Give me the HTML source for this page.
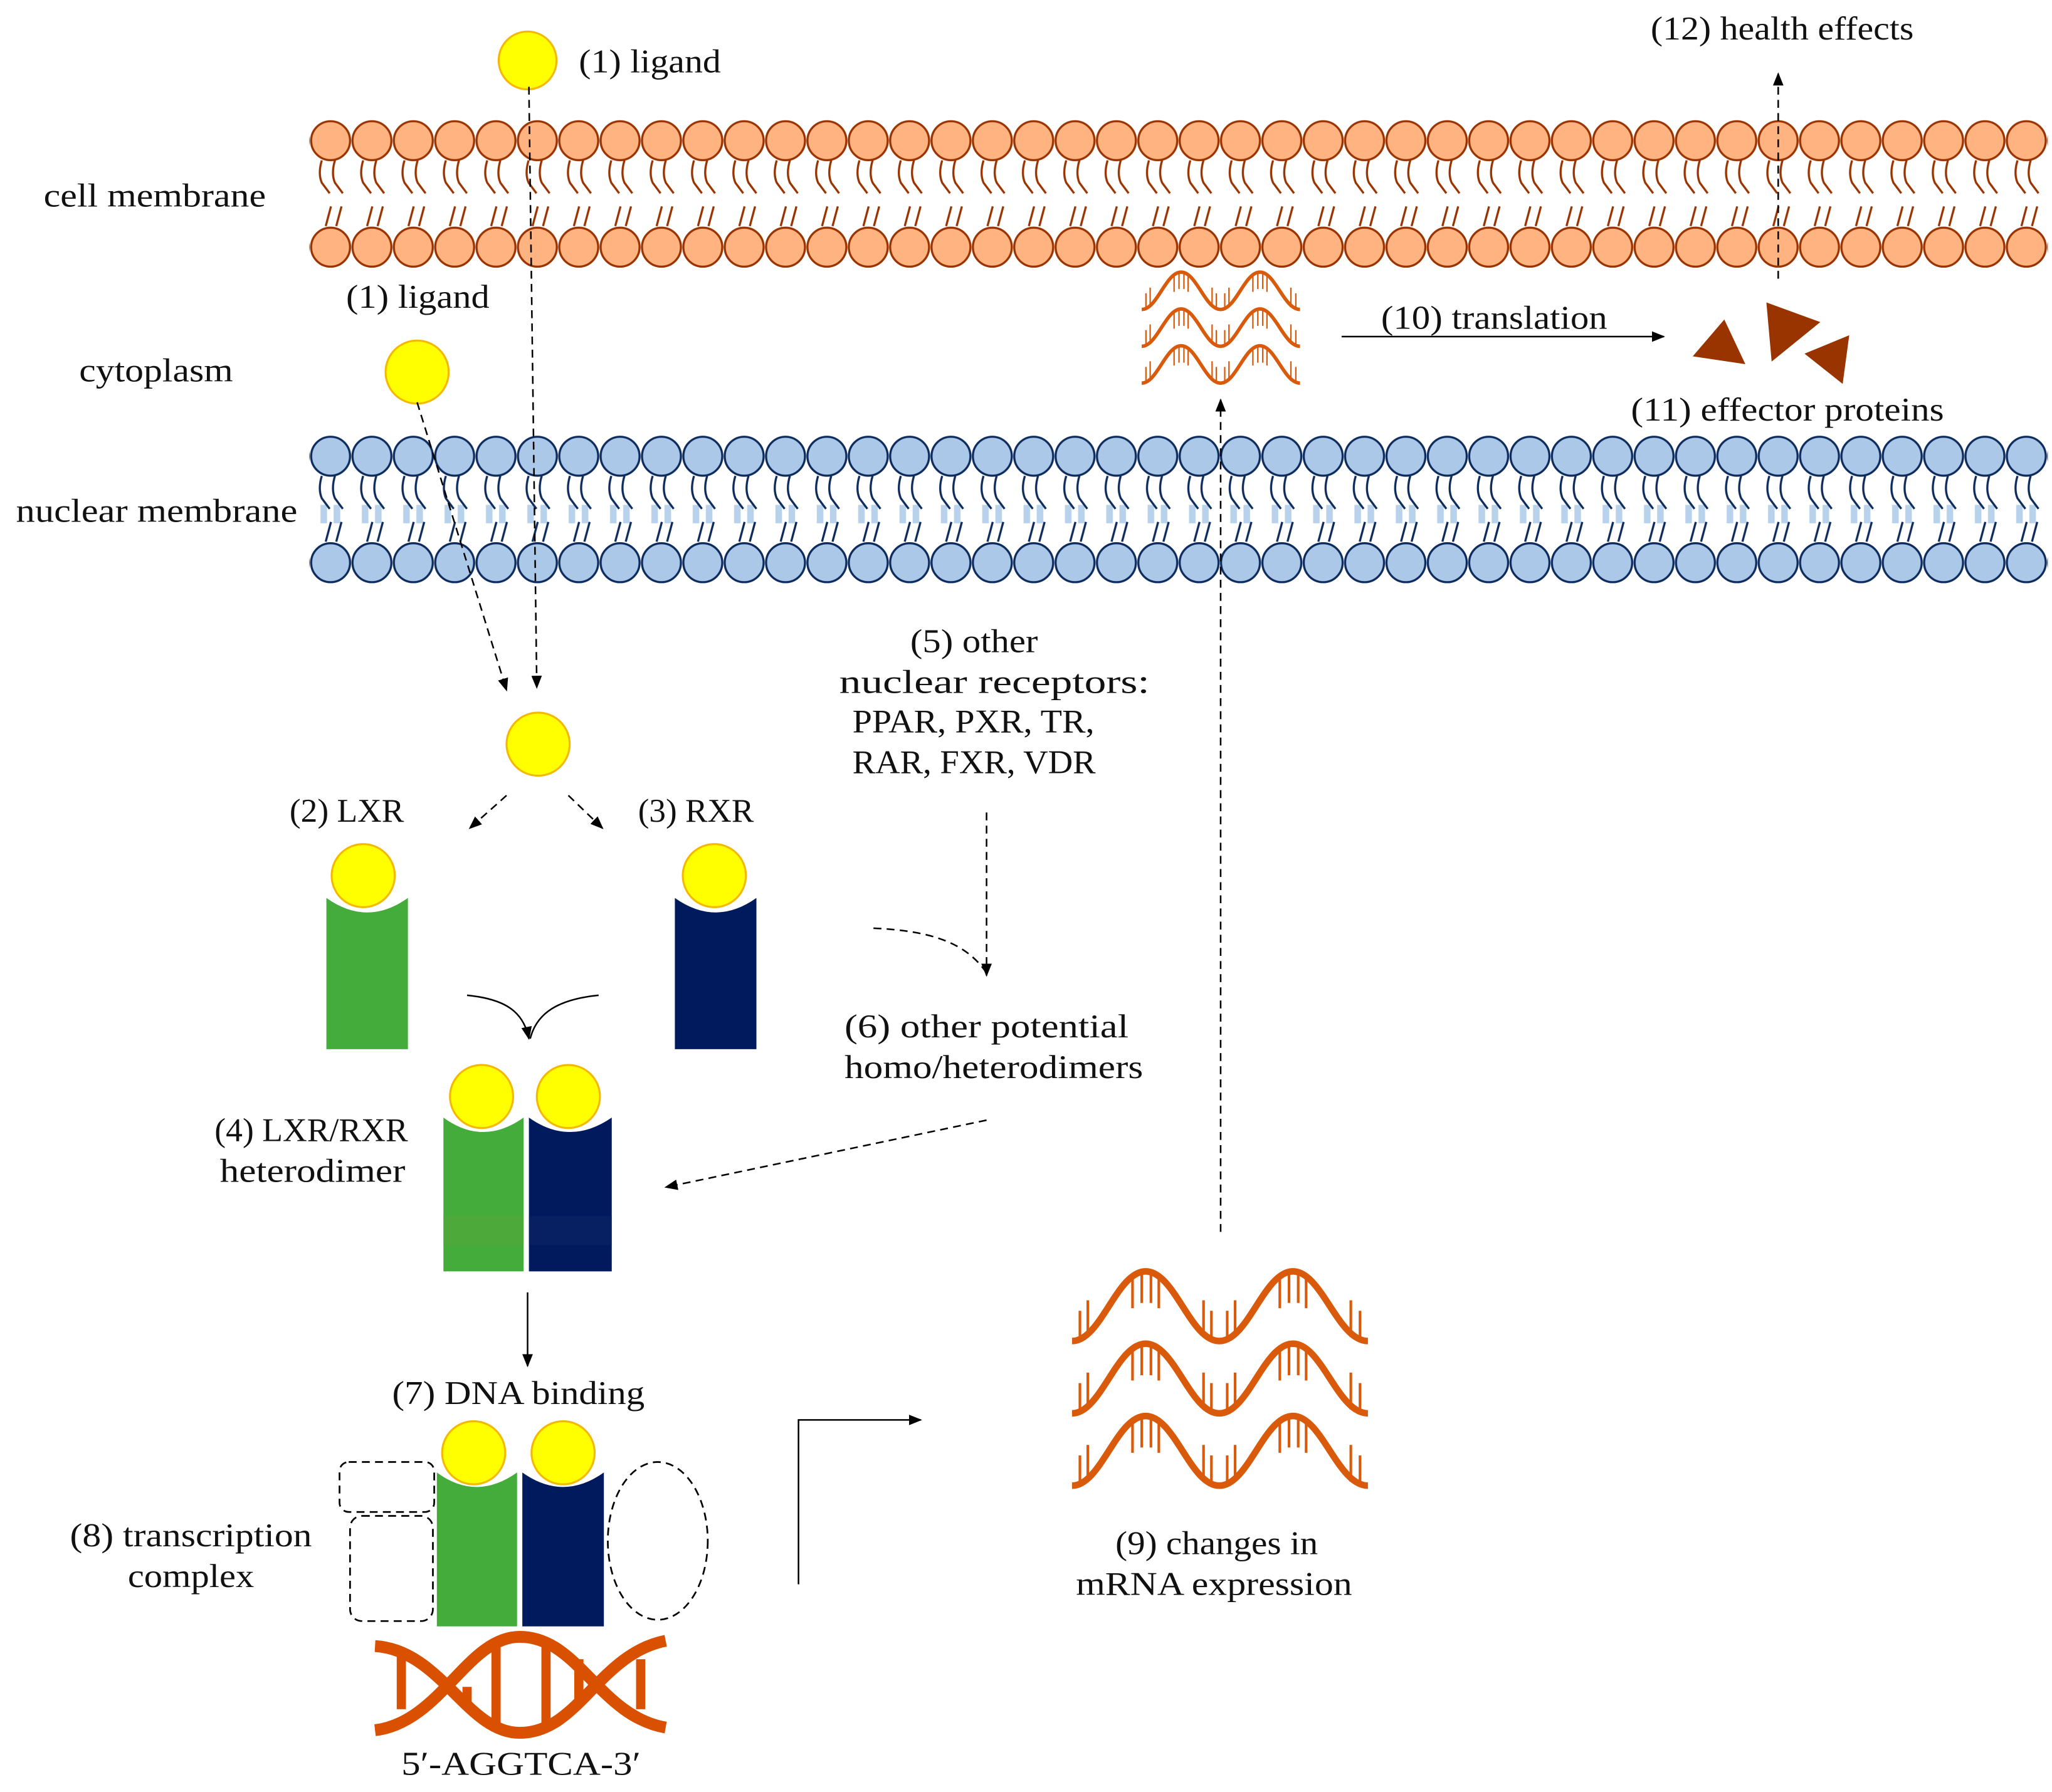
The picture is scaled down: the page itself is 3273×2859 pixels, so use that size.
<!DOCTYPE html>
<html><head><meta charset="utf-8"><style>
html,body{margin:0;padding:0;background:#fff}
svg{display:block}
text{font-family:"Liberation Serif",serif;font-size:25px;fill:#111}
</style></head><body>
<svg width="3273" height="2859" viewBox="0 0 1560 1363" xmlns="http://www.w3.org/2000/svg">
<defs>
<pattern id="cm" patternUnits="userSpaceOnUse" x="235.5" y="90" width="31.45" height="115">
 <g fill="none" stroke="#993300" stroke-width="1.6">
  <path d="M9,32 q-3,10 0,17 l6,8 M19,32 q-3,10 0,17 l6,8"/>
  <path d="M12,82 l4,-15 M20,82 l4,-15"/>
 </g>
 <circle cx="15.7" cy="17" r="14.8" fill="#FFB380" stroke="#993300" stroke-width="1.6"/>
 <circle cx="15.7" cy="98" r="14.8" fill="#FFB380" stroke="#993300" stroke-width="1.6"/>
</pattern>
<pattern id="nm" patternUnits="userSpaceOnUse" x="235.5" y="330" width="31.45" height="115">
 <rect x="8" y="54" width="5" height="14" fill="#B9D2EC"/><rect x="18" y="54" width="5" height="14" fill="#B9D2EC"/>
 <g fill="none" stroke="#0D2B5C" stroke-width="1.6">
  <path d="M9,32 q-3,10 0,17 l6,8 M19,32 q-3,10 0,17 l6,8"/>
  <path d="M12,82 l4,-15 M20,82 l4,-15"/>
 </g>
 <circle cx="15.7" cy="17" r="14.8" fill="#ABC8E8" stroke="#0D2B5C" stroke-width="1.6"/>
 <circle cx="15.7" cy="98" r="14.8" fill="#ABC8E8" stroke="#0D2B5C" stroke-width="1.6"/>
</pattern>
<marker id="ah" markerWidth="10" markerHeight="10" refX="9" refY="5" orient="auto" markerUnits="userSpaceOnUse"><path d="M0,1 L10,5 L0,9 Z" fill="#000"/></marker>
<g id="wave">
 <path d="M0,53 C22,53 34,0 56,0 C78,0 90,53 112,53 C134,53 146,0 168,0 C190,0 202,53 225,53" fill="none" stroke="#D95A0A" stroke-width="5"/>
 <g stroke="#D95A0A" stroke-width="2">
  <path d="M6,30V50 M12,22V50 M46,4V28 M53,2V24 M60,2V24 M66,4V28 M100,22V50 M106,30V50 M118,30V50 M124,22V50 M158,4V28 M165,2V24 M172,2V24 M178,4V28 M212,22V50 M219,30V50"/>
 </g>
</g>
</defs>

<rect x="235" y="90" width="1322" height="115" fill="url(#cm)"/>
<rect x="235" y="330" width="1322" height="115" fill="url(#nm)"/>

<g lengthAdjust="spacingAndGlyphs">
<text x="33" y="157" textLength="169" lengthAdjust="spacingAndGlyphs">cell membrane</text>
<text x="60" y="290" textLength="117" lengthAdjust="spacingAndGlyphs">cytoplasm</text>
<text x="12" y="397" textLength="214" lengthAdjust="spacingAndGlyphs">nuclear membrane</text>
<text x="440" y="55" textLength="108" lengthAdjust="spacingAndGlyphs">(1) ligand</text>
<text x="263" y="234" textLength="109" lengthAdjust="spacingAndGlyphs">(1) ligand</text>
<text x="1255" y="30" textLength="200" lengthAdjust="spacingAndGlyphs">(12) health effects</text>
<text x="1050" y="250" textLength="172" lengthAdjust="spacingAndGlyphs">(10) translation</text>
<text x="1240" y="320" textLength="238" lengthAdjust="spacingAndGlyphs">(11) effector proteins</text>
<text x="692" y="496" textLength="97" lengthAdjust="spacingAndGlyphs">(5) other</text>
<text x="638" y="527" textLength="236" lengthAdjust="spacingAndGlyphs">nuclear receptors:</text>
<text x="648" y="557" textLength="184" lengthAdjust="spacingAndGlyphs">PPAR, PXR, TR,</text>
<text x="648" y="588" textLength="185" lengthAdjust="spacingAndGlyphs">RAR, FXR, VDR</text>
<text x="642" y="789" textLength="216" lengthAdjust="spacingAndGlyphs">(6) other potential</text>
<text x="642" y="820" textLength="227" lengthAdjust="spacingAndGlyphs">homo/heterodimers</text>
<text x="220" y="625" textLength="87" lengthAdjust="spacingAndGlyphs">(2) LXR</text>
<text x="485" y="625" textLength="88" lengthAdjust="spacingAndGlyphs">(3) RXR</text>
<text x="163" y="868" textLength="147" lengthAdjust="spacingAndGlyphs">(4) LXR/RXR</text>
<text x="167" y="899" textLength="141" lengthAdjust="spacingAndGlyphs">heterodimer</text>
<text x="298" y="1068" textLength="192" lengthAdjust="spacingAndGlyphs">(7) DNA binding</text>
<text x="53" y="1176" textLength="184" lengthAdjust="spacingAndGlyphs">(8) transcription</text>
<text x="97" y="1207" textLength="96" lengthAdjust="spacingAndGlyphs">complex</text>
<text x="305" y="1350" textLength="182" lengthAdjust="spacingAndGlyphs">5′-AGGTCA-3′</text>
<text x="848" y="1182" textLength="154" lengthAdjust="spacingAndGlyphs">(9) changes in</text>
<text x="818" y="1213" textLength="210" lengthAdjust="spacingAndGlyphs">mRNA expression</text>
</g>

<g fill="#FFFF00" stroke="#F5B800" stroke-width="1.5">
<circle cx="401" cy="46" r="22"/>
<circle cx="317" cy="283" r="24"/>
<circle cx="409" cy="566" r="24"/>
</g>

<g stroke="#000" stroke-width="1.2" fill="none" stroke-dasharray="6,4">
<path d="M402,66 L408,523" marker-end="url(#ah)"/>
<path d="M317,306 L385,525" marker-end="url(#ah)"/>
<path d="M385,605 L357,630" marker-end="url(#ah)"/>
<path d="M432,605 L458,630" marker-end="url(#ah)"/>
<path d="M750,618 L750,742" marker-end="url(#ah)"/>
<path d="M664,706 C710,708 735,718 750,740"/>
<path d="M750,852 L506,903" marker-end="url(#ah)"/>
<path d="M928,937 L928,304" marker-end="url(#ah)"/>
<path d="M1352,212 L1352,56" marker-end="url(#ah)"/>
</g>
<g stroke="#000" stroke-width="1.2" fill="none">
<path d="M355,757 C385,760 398,770 402,790" marker-end="url(#ah)"/>
<path d="M455,757 C425,760 408,770 403,790"/>
<path d="M401,983 L401,1039" marker-end="url(#ah)"/>
<path d="M607,1205 L607,1080 L700,1080" marker-end="url(#ah)"/>
<path d="M1020,256 L1265,256" marker-end="url(#ah)"/>
</g>

<g>
<path d="M248,683 Q279,705 310,683 L310,798 L248,798 Z" fill="#43AC3A"/>
<path d="M513,683 Q544,705 575,683 L575,798 L513,798 Z" fill="#001A5E"/>
<path d="M337,850 Q367,872 398,850 L398,967 L337,967 Z" fill="#43AC3A"/>
<path d="M402,850 Q433,872 465,850 L465,967 L402,967 Z" fill="#001A5E"/>
<rect x="337" y="925" width="61" height="22" fill="#55A83A" opacity="0.6"/>
<rect x="402" y="925" width="63" height="22" fill="#0A2466" opacity="0.6"/>
<path d="M332,1120 Q362,1142 393,1120 L393,1237 L332,1237 Z" fill="#43AC3A"/>
<path d="M397,1120 Q428,1142 459,1120 L459,1237 L397,1237 Z" fill="#001A5E"/>
</g>
<g fill="#FFFF00" stroke="#F5B800" stroke-width="1.5">
<circle cx="276" cy="666" r="24"/>
<circle cx="543" cy="666" r="24"/>
<circle cx="366" cy="834" r="24"/>
<circle cx="432" cy="834" r="24"/>
<circle cx="360" cy="1105" r="24"/>
<circle cx="428" cy="1105" r="24"/>
</g>

<g stroke="#000" stroke-width="1.3" fill="none" stroke-dasharray="6,4">
<rect x="258" y="1112" width="72" height="38" rx="7"/>
<rect x="266" y="1153" width="63" height="80" rx="9"/>
<ellipse cx="500" cy="1172" rx="38" ry="60"/>
</g>

<g stroke="#D95000" fill="none" stroke-width="9">
<path d="M285,1252 C335,1255 355,1318 395,1318 C440,1318 455,1258 506,1248"/>
<path d="M285,1316 C335,1310 355,1245 395,1245 C440,1245 455,1305 506,1314"/>
</g>
<g stroke="#D95000" stroke-width="7">
<path d="M305,1258V1300 M355,1283V1300 M377,1250V1314 M415,1250V1314 M440,1262V1295 M487,1262V1300"/>
</g>

<use href="#wave" transform="translate(815,967)"/>
<use href="#wave" transform="translate(815,1022)"/>
<use href="#wave" transform="translate(815,1077)"/>
<use href="#wave" transform="translate(868,207) scale(0.535)"/>
<use href="#wave" transform="translate(868,235) scale(0.535)"/>
<use href="#wave" transform="translate(868,263) scale(0.535)"/>

<g fill="#993300">
<polygon points="1287,271 1311,243 1327,277"/>
<polygon points="1343,230 1384,245 1347,275"/>
<polygon points="1372,269 1406,255 1401,292"/>
</g>
</svg>
</body></html>
